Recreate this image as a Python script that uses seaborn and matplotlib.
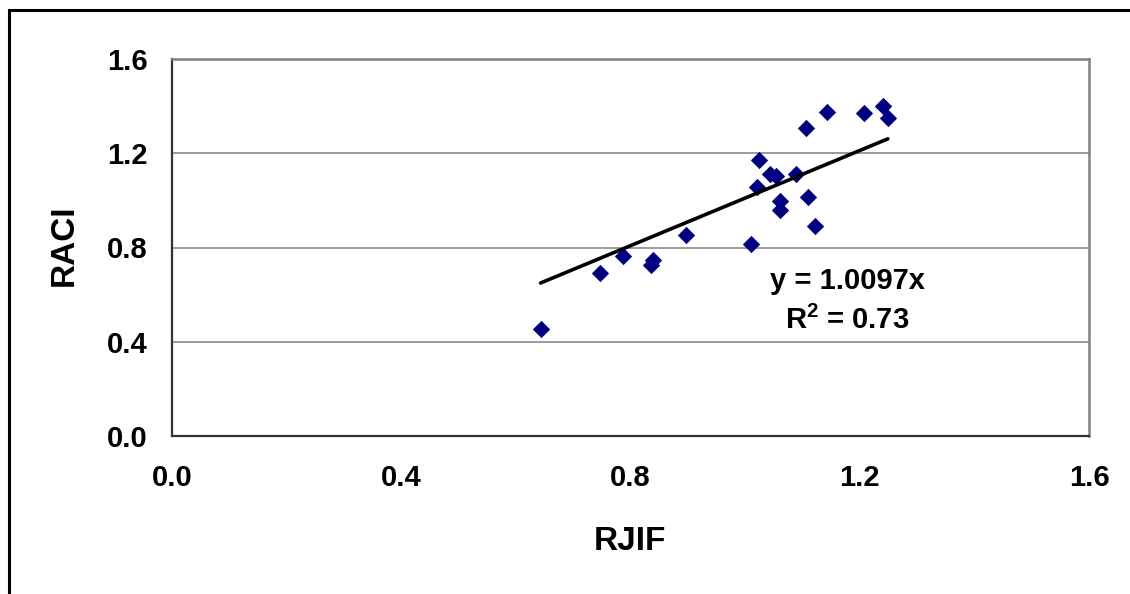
import matplotlib
matplotlib.use("Agg")
import matplotlib.pyplot as plt
import seaborn as sns
import numpy as np
import pandas as pd
from matplotlib.patches import Rectangle

# data
rjif = [0.643, 0.746, 0.787, 0.835, 0.840, 0.897, 1.011, 1.020, 1.024, 1.043, 1.054,
        1.061, 1.061, 1.088, 1.106, 1.110, 1.122, 1.142, 1.208, 1.240, 1.249]
raci = [0.456, 0.693, 0.763, 0.724, 0.745, 0.855, 0.816, 1.055, 1.171, 1.112, 1.102,
        0.996, 0.960, 1.112, 1.309, 1.013, 0.893, 1.377, 1.370, 1.401, 1.349]
slope = 1.0097
r2 = 0.73
ticks = [0.0, 0.4, 0.8, 1.2, 1.6]
tick_labels = ["0.0", "0.4", "0.8", "1.2", "1.6"]

df = pd.DataFrame({"RJIF": rjif, "RACI": raci})

sns.set_theme(style="white")
plt.rcParams["font.family"] = ["Liberation Sans", "DejaVu Sans"]
plt.rcParams["font.weight"] = "bold"
plt.rcParams["text.color"] = "black"
plt.rcParams["axes.labelcolor"] = "black"
plt.rcParams["mathtext.fontset"] = "custom"
plt.rcParams["mathtext.rm"] = "Liberation Sans:bold"
plt.rcParams["mathtext.bf"] = "Liberation Sans:bold"
plt.rcParams["mathtext.it"] = "Liberation Sans:bold"

fig = plt.figure(figsize=(11.3, 5.94), dpi=100)
fig.patch.set_facecolor("white")
ax = fig.add_axes([172 / 1130, 1 - 436 / 594, 917 / 1130, 377 / 594])

# outer frame (only top and left visible)
fig.add_artist(Rectangle((9 / 1130, -0.1), 1.2, 1 - 10 / 594 + 0.1,
                         transform=fig.transFigure, fill=False,
                         edgecolor="black", linewidth=2.2, clip_on=False))

sns.scatterplot(data=df, x="RJIF", y="RACI", marker="D", s=78, color="#000080",
                edgecolor="#000080", linewidth=0, ax=ax, zorder=3)

xfit = np.array([min(rjif), max(rjif)])
sns.lineplot(x=xfit, y=slope * xfit, color="black", linewidth=2.6, ax=ax, zorder=4)

ax.set_xlim(0, 1.6)
ax.set_ylim(0, 1.6)
ax.set_xticks(ticks)
ax.set_yticks(ticks)
ax.set_xticklabels(tick_labels)
ax.set_yticklabels(tick_labels)
ax.tick_params(axis="both", which="major", direction="out", length=6.5, width=1.2,
               color="#333333", labelsize=21, labelcolor="black")
ax.tick_params(axis="y", pad=11)
ax.tick_params(axis="x", pad=14)
for lab in ax.get_xticklabels() + ax.get_yticklabels():
    lab.set_fontweight("bold")

ax.yaxis.grid(True, color="#808080", linewidth=1.1)
ax.xaxis.grid(False)
ax.set_axisbelow(True)

for side in ["top", "right"]:
    ax.spines[side].set_color("#808080")
    ax.spines[side].set_linewidth(1.8)
for side in ["left", "bottom"]:
    ax.spines[side].set_color("#333333")
    ax.spines[side].set_linewidth(1.6)

ax.set_xlabel("RJIF", fontsize=24, fontweight="bold", color="black")
ax.set_ylabel("RACI", fontsize=24, fontweight="bold", color="black")
ax.xaxis.label.set_va("center")
ax.yaxis.label.set_va("center")
ax.xaxis.set_label_coords(0.4995, -(541 - 436) / 377)
ax.yaxis.set_label_coords((64 - 172) / 917, (436 - 245) / 377)

ax.text(1.178, 0.656, f"y = {slope:.4f}x", fontsize=21, fontweight="bold",
        ha="center", va="center", color="black")
ax.text(1.178, 0.491, "R$^{2}$" + f" = {r2:.2f}", fontsize=21, fontweight="bold",
        ha="center", va="center", color="black")

fig.savefig("out.png", dpi=100, facecolor="white")
